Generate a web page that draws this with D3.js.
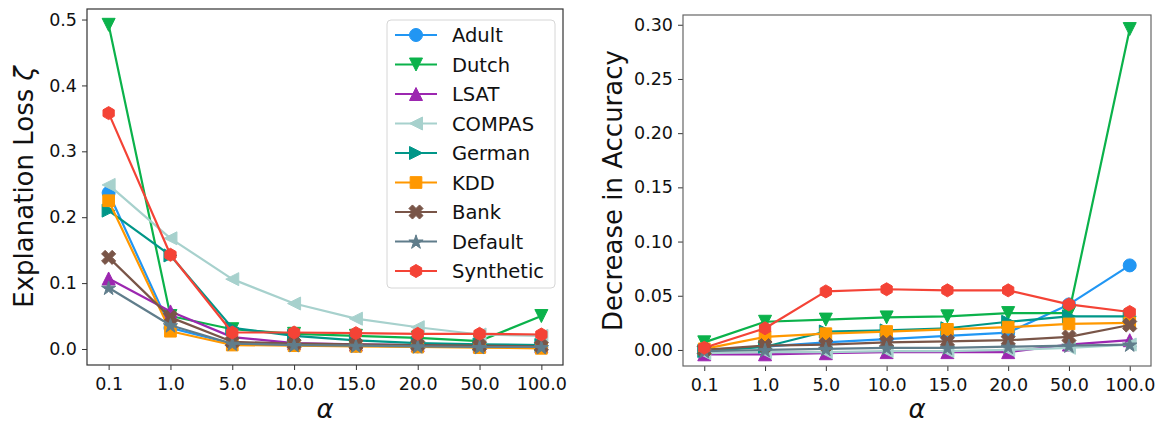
<!DOCTYPE html>
<html>
<head>
<meta charset="utf-8">
<script src="https://cdn.jsdelivr.net/npm/d3@7"></script>
<style>
    body { margin: 0; background: #fff; }
    svg text { font-family: "DejaVu Sans", sans-serif; fill: #111; }
</style>
</head>
<body>
<div id="chart"></div>
<script>
const width = 1164;
const height = 424;

// x categories (alpha)
const alphas = ["0.1", "1.0", "5.0", "10.0", "15.0", "20.0", "50.0", "100.0"];

const datasets = ["Adult", "Dutch", "LSAT", "COMPAS", "German", "KDD", "Bank", "Default", "Synthetic"];
const colors = ["#2196F3", "#0BB24B", "#9C27B0", "#A7D1CD", "#009688", "#FF9800", "#795548", "#607D8B", "#F44336"];
const markers = ["o", "v", "^", "<", ">", "s", "X", "*", "h"];

// Explanation loss, one row per dataset (same order as datasets)
const explanationLoss = [
    [0.237, 0.032, 0.008, 0.006, 0.005, 0.004, 0.003, 0.003], // Adult
    [0.492, 0.050, 0.030, 0.023, 0.020, 0.017, 0.012, 0.050], // Dutch
    [0.107, 0.057, 0.018, 0.009, 0.007, 0.006, 0.005, 0.004], // LSAT
    [0.249, 0.168, 0.106, 0.069, 0.046, 0.033, 0.022, 0.020], // COMPAS
    [0.210, 0.142, 0.032, 0.020, 0.013, 0.009, 0.007, 0.006], // German
    [0.225, 0.027, 0.006, 0.005, 0.004, 0.003, 0.002, 0.001], // KDD
    [0.139, 0.048, 0.011, 0.008, 0.007, 0.006, 0.005, 0.004], // Bank
    [0.093, 0.036, 0.008, 0.006, 0.005, 0.004, 0.003, 0.003], // Default
    [0.358, 0.143, 0.025, 0.025, 0.024, 0.023, 0.023, 0.022], // Synthetic
];

// Decrease in accuracy
const accuracyDrop = [
    [0.000, 0.003, 0.007, 0.010, 0.013, 0.016, 0.042, 0.078], // Adult
    [0.007, 0.026, 0.028, 0.030, 0.031, 0.034, 0.034, 0.296], // Dutch
    [-0.004, -0.004, -0.003, -0.002, -0.002, -0.002, 0.005, 0.009], // LSAT
    [-0.003, -0.002, -0.002, -0.001, -0.001, 0.000, 0.002, 0.005], // COMPAS
    [-0.001, 0.003, 0.017, 0.018, 0.020, 0.026, 0.031, 0.031], // German
    [0.001, 0.012, 0.015, 0.017, 0.019, 0.021, 0.024, 0.025], // KDD
    [0.000, 0.004, 0.005, 0.007, 0.008, 0.009, 0.012, 0.023], // Bank
    [-0.001, 0.000, 0.001, 0.002, 0.002, 0.003, 0.004, 0.005], // Default
    [0.002, 0.020, 0.054, 0.056, 0.055, 0.055, 0.042, 0.035], // Synthetic
];

const lossTicks = [0, 0.1, 0.2, 0.3, 0.4, 0.5];
const accTicks = [0, 0.05, 0.1, 0.15, 0.2, 0.25, 0.3];

const svg = d3
    .select("#chart")
    .append("svg")
    .attr("width", width)
    .attr("height", height);

const MS = 13; // marker size (px)

// matplotlib-like marker shapes as path strings
function markerPath(m, s) {
    const h = s / 2;
    const poly = (pts) => "M" + pts.map((p) => p.join(",")).join("L") + "Z";
    switch (m) {
        case "o":
            return d3.symbol(d3.symbolCircle, Math.PI * h * h)();
        case "v":
            return poly([[0, h], [-h, -h], [h, -h]]);
        case "^":
            return poly([[0, -h], [-h, h], [h, h]]);
        case "<":
            return poly([[-h, 0], [h, -h], [h, h]]);
        case ">":
            return poly([[h, 0], [-h, -h], [-h, h]]);
        case "s": {
            const q = h * 0.9;
            return poly([[-q, -q], [q, -q], [q, q], [-q, q]]);
        }
        case "X": {
            const base = [[-1, -3], [1, -3], [1, -1], [3, -1], [3, 1], [1, 1], [1, 3], [-1, 3], [-1, 1], [-3, 1], [-3, -1], [-1, -1]];
            const a = Math.PI / 4;
            const k = s * 1.15;
            return poly(base.map(([x, y]) => {
                const px = (x / 6) * k, py = (y / 6) * k;
                return [px * Math.cos(a) - py * Math.sin(a), px * Math.sin(a) + py * Math.cos(a)];
            }));
        }
        case "*": {
            const pts = [];
            const R = h * 1.15;
            for (let i = 0; i < 10; i++) {
                const r = i % 2 === 0 ? R : R * 0.381966;
                const ang = -Math.PI / 2 + (i * Math.PI) / 5;
                pts.push([r * Math.cos(ang), r * Math.sin(ang) + 0.8]);
            }
            return poly(pts);
        }
        case "h": {
            const pts = [];
            for (let i = 0; i < 6; i++) {
                const ang = -Math.PI / 2 + (i * Math.PI) / 3;
                pts.push([h * Math.cos(ang), h * Math.sin(ang)]);
            }
            return poly(pts);
        }
    }
}

function drawPanel(p) {
    const x = d3.scalePoint().domain(alphas).range([p.left, p.right]).padding(0.35);
    const y = d3.scaleLinear().domain(p.domain).range([p.bottom, p.top]);

    const g = svg.append("g");

    // axes
    g.append("g")
        .attr("transform", `translate(0,${p.bottom})`)
        .call(d3.axisBottom(x).tickSize(5).tickPadding(8))
        .call((a) => a.select(".domain").remove())
        .call((a) => a.selectAll("line").attr("stroke", "#333"))
        .call((a) => a.selectAll("text").attr("font-size", 17.5).attr("font-family", "DejaVu Sans"));

    g.append("g")
        .attr("transform", `translate(${p.left},0)`)
        .call(d3.axisLeft(y).tickValues(p.ticks).tickFormat(d3.format(p.fmt)).tickSize(5).tickPadding(5))
        .call((a) => a.select(".domain").remove())
        .call((a) => a.selectAll("line").attr("stroke", "#333"))
        .call((a) => a.selectAll("text").attr("font-size", 17.5).attr("font-family", "DejaVu Sans"));

    // series
    const line = d3.line().x((d, i) => x(alphas[i])).y((d) => y(d));
    p.values.forEach((vals, k) => {
        const sg = g.append("g");
        sg.append("path")
            .attr("d", line(vals))
            .attr("fill", "none")
            .attr("stroke", colors[k])
            .attr("stroke-width", 2.2)
            .attr("stroke-linejoin", "round");
        sg.selectAll("path.m")
            .data(vals)
            .join("path")
            .attr("class", "m")
            .attr("transform", (d, i) => `translate(${x(alphas[i])},${y(d)})`)
            .attr("d", markerPath(markers[k], MS))
            .attr("fill", colors[k])
            .attr("stroke", colors[k])
            .attr("stroke-width", 1)
            .attr("stroke-linejoin", "round");
    });

    // frame
    g.append("rect")
        .attr("x", p.left)
        .attr("y", p.top)
        .attr("width", p.right - p.left)
        .attr("height", p.bottom - p.top)
        .attr("fill", "none")
        .attr("stroke", p.frame)
        .attr("stroke-width", 1.2);

    // labels
    const yl = g.append("text")
        .attr("transform", `translate(${p.ylabelX},${(p.top + p.bottom) / 2}) rotate(-90)`)
        .attr("text-anchor", "middle")
        .attr("font-size", 26);
    yl.append("tspan").text(p.ylabel);
    if (p.ylabelSym) yl.append("tspan").attr("font-style", "italic").text(p.ylabelSym);

    g.append("text")
        .attr("x", (p.left + p.right) / 2)
        .attr("y", 418)
        .attr("text-anchor", "middle")
        .attr("font-size", 26)
        .attr("font-style", "italic")
        .text("α");

    return g;
}

drawPanel({
    left: 87, right: 563, top: 9, bottom: 365,
    domain: [-0.0243, 0.516], ticks: lossTicks, fmt: ".1f",
    values: explanationLoss, ylabel: "Explanation Loss ", ylabelSym: "ζ", ylabelX: 33, frame: "#333",
});

drawPanel({
    left: 683, right: 1151, top: 15, bottom: 366,
    domain: [-0.0148, 0.309], ticks: accTicks, fmt: ".2f",
    values: accuracyDrop, ylabel: "Decrease in Accuracy", ylabelX: 622, frame: "#666",
});

// Legend (left panel)
const legend = svg.append("g").attr("transform", "translate(387,20)");
legend
    .append("rect")
    .attr("width", 168)
    .attr("height", 268)
    .attr("rx", 4)
    .attr("fill", "#fff")
    .attr("fill-opacity", 0.8)
    .attr("stroke", "#d6d6d6");

const items = legend
    .selectAll("g.item")
    .data(datasets)
    .join("g")
    .attr("class", "item")
    .attr("transform", (d, i) => `translate(0,${15 + i * 29.5})`);

items.append("line")
    .attr("x1", 8).attr("x2", 50)
    .attr("stroke", (d, i) => colors[i])
    .attr("stroke-width", 2.2);

items.append("path")
    .attr("transform", "translate(29,0)")
    .attr("d", (d, i) => markerPath(markers[i], MS))
    .attr("fill", (d, i) => colors[i])
    .attr("stroke", (d, i) => colors[i])
    .attr("stroke-width", 1);

items.append("text")
    .attr("x", 65)
    .attr("y", 7)
    .attr("font-size", 19.5)
    .text((d) => d);
</script>
</body>
</html>
